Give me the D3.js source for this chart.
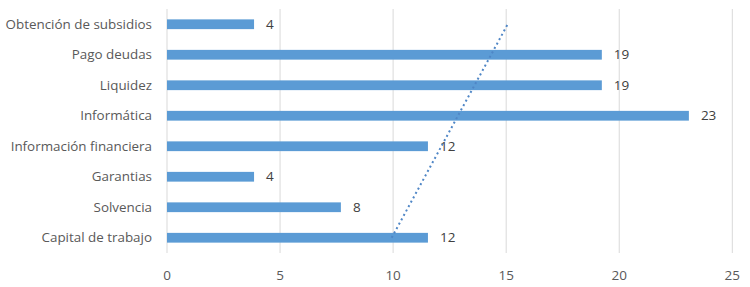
<!DOCTYPE html>
<html>
<head>
<meta charset="utf-8">
<script src="https://cdn.jsdelivr.net/npm/d3@7"></script>
<style>
  body { margin: 0; background: #fff; }
  svg { display: block; font-family: "Open Sans", Lato, sans-serif; }
</style>
</head>
<body>
<svg width="750" height="287"></svg>
<script>
// categories top to bottom, values in percent (labels are rounded)
const categories = ["Obtención de subsidios", "Pago deudas", "Liquidez", "Informática",
  "Información financiera", "Garantias", "Solvencia", "Capital de trabajo"]
const values = [3.85, 19.23, 19.23, 23.08, 11.54, 3.85, 7.69, 11.54]
const xTicks = [0, 5, 10, 15, 20, 25]

const svg = d3.select("svg")
const margin = {top: 9, right: 16, bottom: 34, left: 167}
const width = 750 - margin.left - margin.right
const height = 287 - margin.top - margin.bottom

const g = svg.append("g").attr("transform", `translate(${margin.left},${margin.top})`)

const x = d3.scaleLinear().domain([0, 25]).range([0, width * 0.997])
const y = d3.scaleBand().domain(categories).range([0, height]).paddingInner(0.68).paddingOuter(0.34)

// gridlines
g.selectAll("line.grid")
  .data(xTicks).enter()
  .append("line")
  .attr("class", "grid")
  .attr("x1", d => x(d)).attr("x2", d => x(d))
  .attr("y1", 0).attr("y2", height)
  .attr("stroke", "#d9d9d9")
  .attr("stroke-width", 1)

// bottom tick labels
g.selectAll("text.tick")
  .data(xTicks).enter()
  .append("text")
  .attr("class", "tick")
  .attr("x", d => x(d))
  .attr("y", height + 27)
  .attr("text-anchor", "middle")
  .attr("font-size", 13.5)
  .attr("fill", "#595959")
  .text(d => d)

// category labels
g.selectAll("text.cat")
  .data(categories).enter()
  .append("text")
  .attr("class", "cat")
  .attr("x", -15)
  .attr("y", d => y(d) + y.bandwidth() / 2)
  .attr("dy", "0.35em")
  .attr("text-anchor", "end")
  .attr("font-size", 13.4)
  .attr("fill", "#595959")
  .text(d => d)

// bars
g.selectAll("rect")
  .data(values).enter()
  .append("rect")
  .attr("x", x(0))
  .attr("y", (d, i) => y(categories[i]))
  .attr("width", d => x(d) - x(0))
  .attr("height", y.bandwidth())
  .attr("fill", "#5b9bd5")

// value labels
g.selectAll("text.val")
  .data(values).enter()
  .append("text")
  .attr("class", "val")
  .attr("x", d => x(d) + 12)
  .attr("y", (d, i) => y(categories[i]) + y.bandwidth() / 2)
  .attr("dy", "0.35em")
  .attr("font-size", 13.5)
  .attr("fill", "#404040")
  .text(d => d3.format(".0f")(d))

// linear trendline (least squares, categories counted from the bottom like excel)
const n = values.length
const pts = values.map((v, i) => ({k: n - i, v: v}))
const mk = d3.mean(pts, p => p.k), mv = d3.mean(pts, p => p.v)
const slope = d3.sum(pts, p => (p.k - mk) * (p.v - mv)) / d3.sum(pts, p => (p.k - mk) ** 2)
const icpt = mv - slope * mk
const trend = [pts[n - 1], pts[0]].map(p => ({cat: categories[n - p.k], v: icpt + slope * p.k}))

g.append("path")
  .datum(trend)
  .attr("d", d3.line().x(d => x(d.v)).y(d => y(d.cat) + y.bandwidth() / 2))
  .attr("fill", "none")
  .attr("stroke", "#4f86c6")
  .attr("stroke-width", 2)
  .attr("stroke-dasharray", "2,3")
</script>
</body>
</html>
